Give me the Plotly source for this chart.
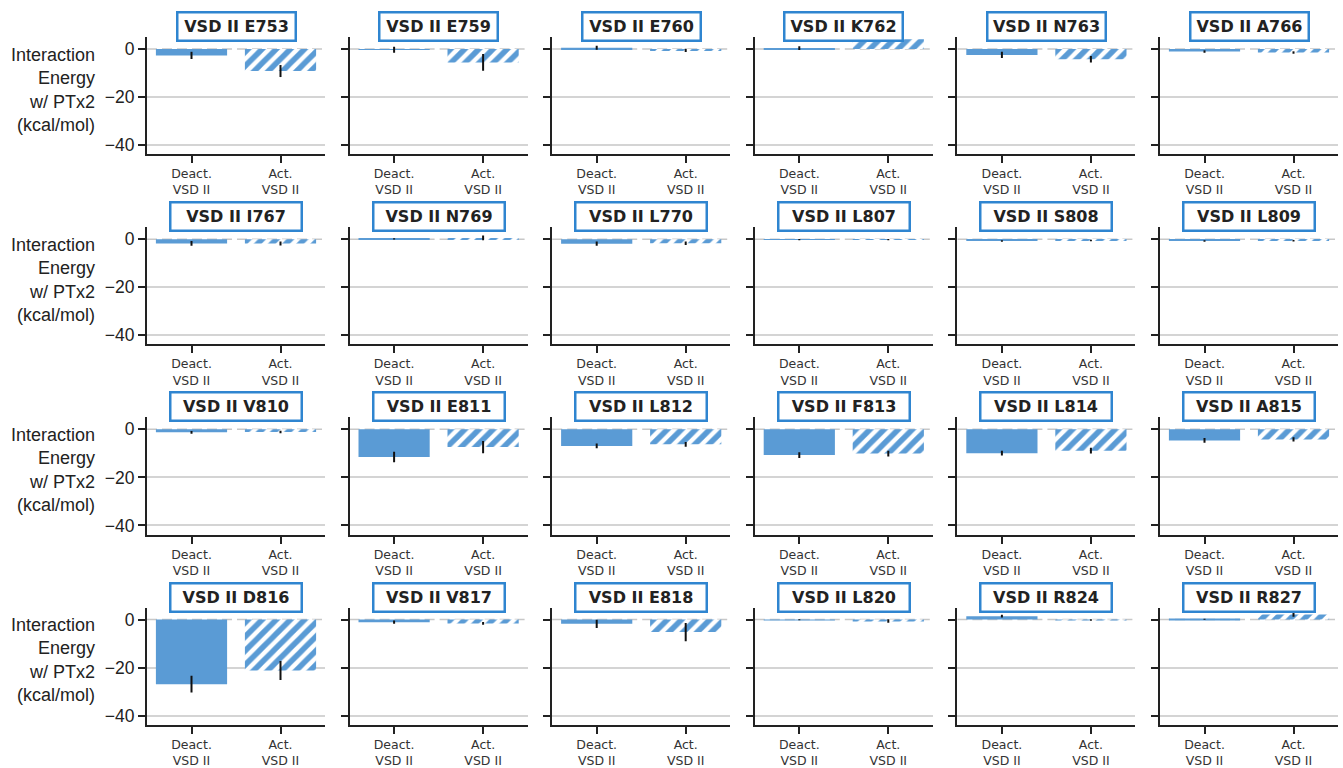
import plotly.graph_objects as go

# ---------------- data ----------------
residues = ["E753", "E759", "E760", "K762", "N763", "A766",
            "I767", "N769", "L770", "L807", "S808", "L809",
            "V810", "E811", "L812", "F813", "L814", "A815",
            "D816", "V817", "E818", "L820", "R824", "R827"]
categories = ["Deact.<br>VSD II", "Act.<br>VSD II"]
deact = [-2.7, -0.3, 0.5, 0.3, -2.5, -1.1,
         -1.8, 0.1, -1.9, -0.2, -0.8, -0.8,
         -1.25, -11.5, -6.9, -10.7, -9.9, -4.6,
         -26.9, -1.1, -1.8, -0.1, 1.4, 0.1]
deact_err = [1.5, 1.25, 0.8, 0.8, 1.3, 0.5,
             1.0, 0.3, 0.9, 0.3, 0.3, 0.3,
             0.6, 2.2, 1.0, 1.2, 1.0, 1.0,
             3.5, 0.7, 1.7, 0.2, 0.6, 0.2]
act = [-9.2, -5.6, -0.6, 4.0, -4.3, -1.5,
       -1.8, 0.5, -1.7, -0.2, -0.6, -0.7,
       -1.1, -7.4, -6.25, -10.1, -8.9, -4.2,
       -21.2, -1.6, -5.2, -0.6, -0.2, 2.1]
act_err = [2.5, 3.5, 0.7, 1.0, 1.4, 0.5,
           0.8, 1.0, 0.7, 0.3, 0.3, 0.3,
           0.5, 2.5, 1.0, 1.2, 1.2, 0.9,
           4.0, 0.6, 3.8, 0.7, 0.3, 0.9]
ytick_vals = [0, -20, -40]
ytick_text = ["0", "\u221220", "\u221240"]
grid_vals = [-20, -40]
y_title = "Interaction<br>Energy<br>w/ PTx2<br>(kcal/mol)"

# ---------------- style / layout ----------------
W, H = 1343, 768
BLUE = "#5a9bd5"
BOX = "#2f85d0"
NCOL, NROW = 6, 4
col_left0, col_pitch, col_w = 147, 202.6, 178
row_top0, row_pitch, row_h = 37, 190.7, 117.5
box_w = [110, 123, 123, 123]

fig = go.Figure()
annotations = []
shapes = []

for i, res in enumerate(residues):
    r, c = divmod(i, NCOL)
    k = i + 1
    xa = "x" if k == 1 else f"x{k}"
    ya = "y" if k == 1 else f"y{k}"
    fig.add_trace(go.Bar(
        x=[categories[0]], y=[deact[i]], xaxis=xa, yaxis=ya,
        width=0.8, marker=dict(color=BLUE, line=dict(width=0)),
        error_y=dict(type="data", array=[deact_err[i]], color="#111111",
                     thickness=2, width=0),
        showlegend=False))
    fig.add_trace(go.Bar(
        x=[categories[1]], y=[act[i]], xaxis=xa, yaxis=ya,
        width=0.8, marker=dict(color="white", line=dict(width=0),
                               pattern=dict(shape="/", fgcolor=BLUE, bgcolor="white",
                                            size=10, solidity=0.55, fgopacity=1)),
        error_y=dict(type="data", array=[act_err[i]], color="#111111",
                     thickness=2, width=0),
        showlegend=False))

    x0 = (col_left0 + c * col_pitch) / W
    x1 = (col_left0 + c * col_pitch + col_w) / W
    top = row_top0 + r * row_pitch
    y1 = 1 - top / H
    y0 = 1 - (top + row_h) / H
    xkey = "xaxis" if k == 1 else f"xaxis{k}"
    ykey = "yaxis" if k == 1 else f"yaxis{k}"
    fig.layout[xkey] = dict(
        domain=[x0, x1], anchor=ya, range=[-0.5, 1.5], type="category",
        categoryorder="array", categoryarray=categories,
        showline=True, linecolor="#222222", linewidth=2,
        ticks="outside", ticklen=7, tickwidth=2, tickcolor="#222222",
        showgrid=False, zeroline=False,
        tickfont=dict(family="DejaVu Sans", size=12.5, color="#333333"),
        fixedrange=True)
    fig.layout[ykey] = dict(
        domain=[y0, y1], anchor=xa, range=[-43.75, 5],
        tickvals=ytick_vals, ticktext=ytick_text,
        showticklabels=(c == 0),
        showline=True, linecolor="#222222", linewidth=2,
        ticks="outside", ticklen=7, tickwidth=2, tickcolor="#222222",
        showgrid=False, zeroline=False,
        minor=dict(tickvals=grid_vals, showgrid=True, gridcolor="#d4d4d4",
                   gridwidth=1.5, ticklen=0),
        tickfont=dict(family="Liberation Sans", size=17.5, color="#222222"),
        fixedrange=True)
    # dashed reference line at zero
    shapes.append(dict(type="line", xref=f"{xa} domain", yref=ya,
                       x0=0, x1=1, y0=ytick_vals[0], y1=ytick_vals[0],
                       line=dict(color="#c8c8c8", width=1.5, dash="10px,5px"),
                       layer="below"))
    # boxed title
    annotations.append(dict(
        text=f"<b>VSD II {res}</b>", xref="paper", yref="paper",
        x=(x0 + x1) / 2, y=1 - (26.5 + r * row_pitch) / H,
        xanchor="center", yanchor="middle", showarrow=False,
        font=dict(family="DejaVu Sans", size=16, color="#222222"),
        bgcolor="white", bordercolor=BOX, borderwidth=2.5, borderpad=3,
        width=box_w[r], height=20, align="center"))

for r in range(NROW):
    annotations.append(dict(
        text=y_title, xref="paper", yref="paper",
        x=97 / W, y=1 - (90 + r * row_pitch) / H,
        xanchor="right", yanchor="middle", showarrow=False, align="right",
        font=dict(family="Liberation Sans", size=18, color="#222222")))

fig.update_layout(
    width=W, height=H, margin=dict(l=0, r=0, t=0, b=0, pad=0),
    paper_bgcolor="white", plot_bgcolor="white",
    bargap=0.2, annotations=annotations, shapes=shapes,
    showlegend=False)

fig.write_html("out.html", config={"displayModeBar": False},
               post_script="document.body.style.margin='0';document.body.style.overflow='hidden';")
